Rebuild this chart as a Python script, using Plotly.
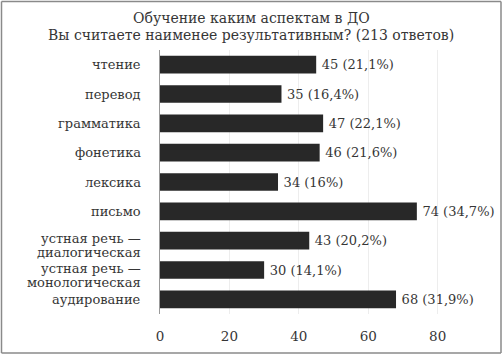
import plotly.graph_objects as go

categories = ["чтение", "перевод", "грамматика", "фонетика", "лексика", "письмо",
              "устная речь —\nдиалогическая", "устная речь —\nмонологическая", "аудирование"]
values = [45, 35, 47, 46, 34, 74, 43, 30, 68]
labels = ["45 (21,1%)", "35 (16,4%)", "47 (22,1%)", "46 (21,6%)", "34 (16%)",
          "74 (34,7%)", "43 (20,2%)", "30 (14,1%)", "68 (31,9%)"]
tick_vals = [0, 20, 40, 60, 80]
title_lines = ["Обучение каким аспектам в ДО",
               "Вы считаете наименее результативным? (213 ответов)"]

W, H = 503, 355
L, R, T, B = 160, 15, 50, 41
pw, ph = W - L - R, H - T - B

FONT = "'DejaVu Serif', 'Liberation Serif', serif"
TXT = "#363636"

fig = go.Figure(go.Bar(
    x=values, y=categories, orientation="h",
    marker=dict(color="#282828", line=dict(width=0)),
    width=0.6,
    text=labels, texttemplate="\u2009%{text}", textposition="outside", cliponaxis=False,
    textfont=dict(family=FONT, size=13, color=TXT),
    hoverinfo="skip",
))

def px2x(px):
    return (px - L) / pw

def py2y(py):
    return (H - B - py) / ph

annotations = []
for cat in categories:
    parts = cat.split("\n")
    for i, p in enumerate(parts):
        shift = 0 if len(parts) == 1 else (2 - i * 14)
        annotations.append(dict(x=px2x(143), xref="paper", y=cat, yref="y",
                                text=p, showarrow=False, xanchor="right", yanchor="middle",
                                yshift=shift, font=dict(family=FONT, size=13, color=TXT)))
for i, line in enumerate(title_lines):
    annotations.append(dict(x=px2x(251), xref="paper", y=py2y(18 + i * 17), yref="paper",
                            text=line, showarrow=False, xanchor="center", yanchor="middle",
                            font=dict(family=FONT, size=14, color=TXT)))

border = dict(color="#8a8a8a", width=1.5)
shapes = [
    dict(type="line", xref="paper", yref="paper", x0=px2x(1.5), x1=px2x(501), y0=py2y(1.5), y1=py2y(1.5), line=border),
    dict(type="line", xref="paper", yref="paper", x0=px2x(1.5), x1=px2x(501), y0=py2y(353), y1=py2y(353), line=border),
    dict(type="line", xref="paper", yref="paper", x0=px2x(1.5), x1=px2x(1.5), y0=py2y(1.5), y1=py2y(353), line=border),
    dict(type="line", xref="paper", yref="paper", x0=px2x(501), x1=px2x(501), y0=py2y(1.5), y1=py2y(353), line=border),
]

fig.update_layout(
    width=W, height=H,
    margin=dict(l=L, r=R, t=T, b=B),
    paper_bgcolor="white", plot_bgcolor="white",
    showlegend=False,
    xaxis=dict(range=[0, 94.5], tickvals=tick_vals, showgrid=True, gridcolor="#ededed",
               gridwidth=1, zeroline=False, showline=False,
               tickfont=dict(family=FONT, size=13.5, color=TXT), ticks="",
               ticklabelstandoff=12),
    yaxis=dict(autorange="reversed", showline=True, linecolor="#999999", linewidth=1,
               showgrid=False, ticks="", showticklabels=False),
    annotations=annotations,
    shapes=shapes,
)

fig.write_html("out.html", config={"displayModeBar": False},
               post_script="document.body.style.margin='0';")
